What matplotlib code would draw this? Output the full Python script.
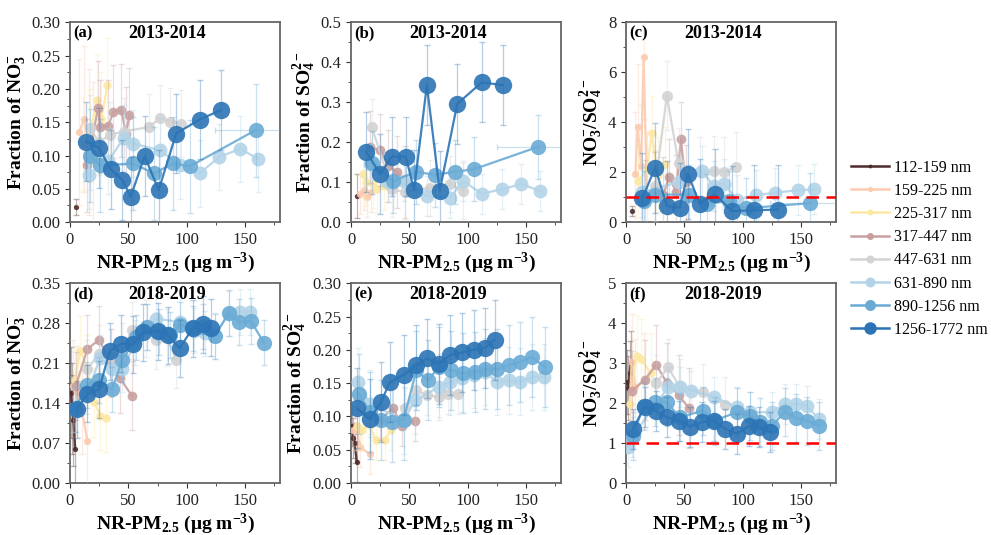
#!/usr/bin/env python3
"""Size-resolved nitrate / sulfate fractions vs NR-PM2.5, 2013-2014 and 2018-2019."""
import matplotlib
matplotlib.use("Agg")
import matplotlib.pyplot as plt
from matplotlib.ticker import MultipleLocator

plt.rcParams["font.family"] = ["Liberation Serif", "DejaVu Serif"]
plt.rcParams["mathtext.fontset"] = "custom"
plt.rcParams["mathtext.rm"] = "Liberation Serif"
plt.rcParams["mathtext.it"] = "Liberation Serif:italic"
plt.rcParams["mathtext.bf"] = "Liberation Serif:bold"

BINS = ["112-159 nm", "159-225 nm", "225-317 nm", "317-447 nm",
        "447-631 nm", "631-890 nm", "890-1256 nm", "1256-1772 nm"]
COLORS = ["#4d2b2b", "#fccbb0", "#fde8a3", "#c8a0a0",
          "#d3d3d3", "#b3d4e8", "#6aabd5", "#2c74b5"]
MSIZE = [3.8, 5.2, 6.0, 7.0, 8.0, 10.0, 11.0, 12.5]

# (a) NO3 fraction, 2013-2014
a_x = [[5], [8, 12, 16, 20], [11, 17, 23, 27, 32],
       [15, 24, 26, 33, 37, 44, 48, 51],
       [17, 25, 34, 46, 68, 77, 86, 95],
       [16, 17, 33, 46, 54, 77, 94, 111, 128, 146, 161],
       [17, 26, 54, 72, 88, 103, 159],
       [14, 25, 35, 45, 52, 64, 76, 91, 111, 129]]
a_y = [[0.023], [0.135, 0.155, 0.12, 0.10], [0.118, 0.13, 0.183, 0.155, 0.206],
       [0.085, 0.172, 0.143, 0.144, 0.166, 0.168, 0.133, 0.161],
       [0.141, 0.12, 0.131, 0.136, 0.143, 0.156, 0.151, 0.148],
       [0.070, 0.098, 0.092, 0.126, 0.118, 0.108, 0.085, 0.073, 0.098, 0.110, 0.095],
       [0.100, 0.085, 0.088, 0.073, 0.088, 0.084, 0.138],
       [0.121, 0.111, 0.079, 0.063, 0.038, 0.099, 0.048, 0.133, 0.154, 0.168]]
a_err = [0.012, 0.11, 0.07, 0.07, 0.05, 0.05, 0.07, 0.06]

# (b) SO4 fraction, 2013-2014
b_x = [[5], [8, 11, 14, 17], [10, 13, 19, 22, 28],
       [16, 25, 32, 39, 46],
       [18, 35, 46, 68, 85, 96],
       [16, 32, 45, 65, 85, 96, 112, 129, 146, 162],
       [18, 36, 56, 72, 89, 105, 160],
       [13, 25, 35, 47, 54, 65, 76, 91, 112, 130]]
b_y = [[0.065], [0.07, 0.08, 0.062, 0.075], [0.12, 0.10, 0.096, 0.082, 0.09],
       [0.187, 0.181, 0.14, 0.126, 0.10],
       [0.237, 0.082, 0.075, 0.086, 0.095, 0.078],
       [0.145, 0.10, 0.103, 0.065, 0.061, 0.103, 0.071, 0.082, 0.095, 0.078],
       [0.149, 0.103, 0.126, 0.118, 0.126, 0.132, 0.188],
       [0.176, 0.12, 0.164, 0.164, 0.080, 0.343, 0.078, 0.296, 0.35, 0.343]]
b_err = [0.055, 0.05, 0.06, 0.09, 0.07, 0.05, 0.08, 0.10]

# (c) NO3/SO4, 2013-2014
c_x = [[5], [8, 10, 13, 15, 18], [10, 18, 22, 27, 33],
       [16, 25, 32, 37, 43, 47, 51],
       [25, 35, 45, 63, 75, 84, 94],
       [14, 45, 65, 75, 84, 95, 111, 128, 147, 161],
       [15, 25, 54, 69, 88, 103, 158],
       [14, 25, 35, 46, 53, 63, 76, 91, 110, 130]]
c_y = [[0.44], [1.92, 3.82, 2.25, 6.63, 1.1], [1.65, 2.08, 3.55, 1.9, 2.32],
       [1.0, 1.3, 1.1, 1.81, 1.2, 3.32, 1.6],
       [1.45, 5.07, 2.35, 2.0, 2.04, 2.02, 2.2],
       [1.2, 1.6, 2.05, 1.45, 1.54, 0.9, 1.07, 1.18, 1.27, 1.31],
       [0.85, 1.1, 1.1, 0.74, 0.83, 0.55, 0.76],
       [0.95, 2.18, 0.64, 0.58, 1.94, 0.74, 1.11, 0.44, 0.47, 0.50]]
c_err = [0.2, 2.5, 1.5, 1.5, 1.4, 1.0, 1.2, 1.8]

# (d) NO3 fraction, 2018-2019
d_x = [[1, 2, 3, 4.5], [3, 6, 10, 15], [4, 9, 15, 21, 26, 31],
       [5, 15, 25, 35, 43, 53],
       [15, 25, 35, 45, 53, 65, 74, 83, 91],
       [5, 15, 26, 36, 45, 56, 66, 74, 94, 106, 116, 124, 136, 146, 154],
       [4, 15, 25, 36, 45, 57, 66, 76, 86, 94, 105, 114, 124, 136, 145, 155, 166],
       [6, 15, 25, 34, 44, 54, 63, 75, 84, 94, 105, 114, 121]]
d_y = [[0.158, 0.13, 0.11, 0.059], [0.17, 0.16, 0.13, 0.073],
       [0.18, 0.232, 0.20, 0.141, 0.118, 0.114],
       [0.17, 0.235, 0.251, 0.21, 0.183, 0.153],
       [0.20, 0.226, 0.22, 0.23, 0.268, 0.27, 0.25, 0.255, 0.216],
       [0.13, 0.16, 0.219, 0.20, 0.20, 0.246, 0.273, 0.288, 0.282, 0.267, 0.262,
        0.258, 0.297, 0.30, 0.30],
       [0.13, 0.172, 0.18, 0.164, 0.216, 0.255, 0.273, 0.265, 0.259, 0.277, 0.271,
        0.274, 0.257, 0.298, 0.282, 0.284, 0.246],
       [0.129, 0.156, 0.164, 0.231, 0.244, 0.243, 0.264, 0.266, 0.259, 0.236,
        0.271, 0.278, 0.272]]
d_err = [0.08, 0.08, 0.06, 0.06, 0.05, 0.04, 0.04, 0.05]

# (e) SO4 fraction, 2018-2019
e_x = [[1, 2, 3, 5], [2, 5, 8, 16], [5, 9, 16, 21, 29, 34],
       [25, 36, 44, 55],
       [46, 56, 65, 75, 83, 92],
       [6, 16, 45, 55, 75, 85, 95, 105, 115, 125, 135, 145, 155, 165],
       [7, 16, 26, 35, 45, 56, 66, 75, 86, 96, 106, 115, 125, 135, 145, 155, 166],
       [5, 16, 26, 33, 45, 56, 65, 75, 85, 95, 105, 115, 123]]
e_y = [[0.086, 0.067, 0.06, 0.031], [0.08, 0.079, 0.054, 0.043],
       [0.085, 0.079, 0.087, 0.064, 0.064, 0.079],
       [0.095, 0.112, 0.085, 0.093],
       [0.112, 0.139, 0.132, 0.129, 0.134, 0.134],
       [0.152, 0.119, 0.094, 0.124, 0.144, 0.152, 0.157, 0.162, 0.167, 0.152,
        0.154, 0.152, 0.159, 0.159],
       [0.134, 0.107, 0.095, 0.091, 0.095, 0.169, 0.154, 0.174, 0.169, 0.165,
        0.167, 0.171, 0.171, 0.177, 0.182, 0.189, 0.174],
       [0.112, 0.096, 0.122, 0.151, 0.162, 0.177, 0.187, 0.179, 0.192, 0.196,
        0.20, 0.203, 0.215]]
e_err = [0.03, 0.03, 0.03, 0.03, 0.03, 0.05, 0.06, 0.06]

# (f) NO3/SO4, 2018-2019
f_x = [[1, 2, 3, 4], [3, 5, 8, 15], [3, 9, 13, 21],
       [5, 16, 26, 35, 45, 54],
       [26, 36, 46, 66, 85],
       [2, 5, 36, 46, 56, 75, 95, 106, 125, 136, 146, 155, 165],
       [6, 15, 25, 35, 46, 66, 76, 95, 106, 115, 125, 136, 146, 155, 165],
       [6, 16, 26, 35, 45, 55, 65, 75, 85, 95, 105, 114, 123]]
f_y = [[2.52, 2.37, 2.75, 3.0], [1.97, 3.02, 2.4, 2.56], [1.98, 3.17, 3.1, 2.75],
       [2.3, 2.58, 2.96, 2.5, 2.2, 1.87],
       [2.5, 2.9, 2.4, 2.28, 1.95],
       [0.89, 1.14, 2.39, 2.39, 2.31, 2.16, 1.89, 1.77, 1.77, 1.98, 1.98, 1.93, 1.60],
       [1.18, 1.93, 2.02, 2.02, 1.64, 1.81, 1.56, 1.77, 1.68, 1.52, 1.43, 1.78,
        1.62, 1.56, 1.43],
       [1.35, 1.91, 1.79, 1.64, 1.56, 1.41, 1.52, 1.56, 1.35, 1.23, 1.42, 1.39, 1.28]]
f_err = [0.8, 1.2, 1.0, 1.0, 0.7, 0.5, 0.6, 0.5]

XERR_LAST = 35  # horizontal spread on the last 890-1256 nm point in 2013-2014

XLABEL = r"NR-PM$_{\mathbf{2.5}}$ ($\mathbf{\mu}$g m$^{\mathbf{-3}}$)"
YLAB_NO3 = r"Fraction of NO$_{\mathbf{3}}^{\mathbf{-}}$"
YLAB_SO4 = r"Fraction of SO$_{\mathbf{4}}^{\mathbf{2-}}$"
YLAB_RATIO = r"NO$_{\mathbf{3}}^{\mathbf{-}}$/SO$_{\mathbf{4}}^{\mathbf{2-}}$"

PANELS = [
    ("(a)", "2013-2014", a_x, a_y, a_err, (0, 0.30), 0.05, "%.2f", YLAB_NO3, False),
    ("(b)", "2013-2014", b_x, b_y, b_err, (0, 0.5), 0.1, "%.1f", YLAB_SO4, False),
    ("(c)", "2013-2014", c_x, c_y, c_err, (0, 8), 2, "%d", YLAB_RATIO, True),
    ("(d)", "2018-2019", d_x, d_y, d_err, (0, 0.35), 0.07, "%.2f", YLAB_NO3, False),
    ("(e)", "2018-2019", e_x, e_y, e_err, (0, 0.30), 0.05, "%.2f", YLAB_SO4, False),
    ("(f)", "2018-2019", f_x, f_y, f_err, (0, 5), 1, "%d", YLAB_RATIO, True),
]
LEFTS = [0.0706, 0.3542, 0.6317]
BOTTOMS = [0.585, 0.0975]
WIDTH, HEIGHT = 0.212, 0.373


def draw_panel(ax, label, period, xs, ys, errs, ylim, ystep, yfmt, ylab, ratio):
    for i in range(len(BINS)):
        col = COLORS[i]
        xerr = None
        if period == "2013-2014" and i == 6:
            xerr = [0] * (len(xs[i]) - 1) + [XERR_LAST]
        ax.errorbar(xs[i], ys[i], yerr=errs[i], xerr=xerr, fmt="none",
                    ecolor=col, alpha=0.35, elinewidth=0.9, capsize=2, zorder=2 + i)
        ax.plot(xs[i], ys[i], "-o", color=col, lw=1.6, ms=MSIZE[i],
                mec="none", alpha=0.9, zorder=3 + i, label=BINS[i])
    if ratio:
        ax.axhline(1, color="red", ls="--", lw=1.8, dashes=(5, 3), zorder=20)
    ax.set_xlim(0, 180)
    ax.set_ylim(*ylim)
    ax.xaxis.set_major_locator(MultipleLocator(50))
    ax.xaxis.set_minor_locator(MultipleLocator(25))
    ax.yaxis.set_major_locator(MultipleLocator(ystep))
    ax.yaxis.set_minor_locator(MultipleLocator(ystep / 2))
    ax.yaxis.set_major_formatter(plt.FormatStrFormatter(yfmt))
    ax.tick_params(which="both", direction="out", labelsize=12, colors="#333333",
                   labelcolor="#222222")
    ax.tick_params(which="major", length=3.5)
    ax.tick_params(which="minor", length=2)
    for sp in ax.spines.values():
        sp.set_color("#666666")
        sp.set_linewidth(1.3)
    ax.set_xlabel(XLABEL, fontsize=14, fontweight="bold", labelpad=2)
    ax.set_ylabel(ylab, fontsize=14, fontweight="bold", labelpad=2)
    ax.text(0.015, 0.985, label, transform=ax.transAxes, ha="left", va="top",
            fontsize=12, fontweight="bold", zorder=30)
    ax.text(0.46, 0.985, period, transform=ax.transAxes, ha="center", va="top",
            fontsize=13, fontweight="bold", zorder=30)


fig = plt.figure(figsize=(9.91, 5.35), dpi=100)
for k, panel in enumerate(PANELS):
    row, colnum = divmod(k, 3)
    ax = fig.add_axes([LEFTS[colnum], BOTTOMS[row], WIDTH, HEIGHT])
    draw_panel(ax, *panel)

leg_handles = []
for i in range(len(BINS)):
    leg_handles.append(plt.Line2D([], [], color=COLORS[i], marker="o",
                                  ms=MSIZE[i] * 0.72, mec="none", lw=1.8,
                                  label=BINS[i]))
fig.legend(handles=leg_handles, loc="center left", bbox_to_anchor=(0.852, 0.535),
           frameon=False, fontsize=11.5, handlelength=2.4, handletextpad=0.3,
           labelspacing=0.45, borderaxespad=0)

fig.savefig("out.png", dpi=100)
plt.close(fig)
